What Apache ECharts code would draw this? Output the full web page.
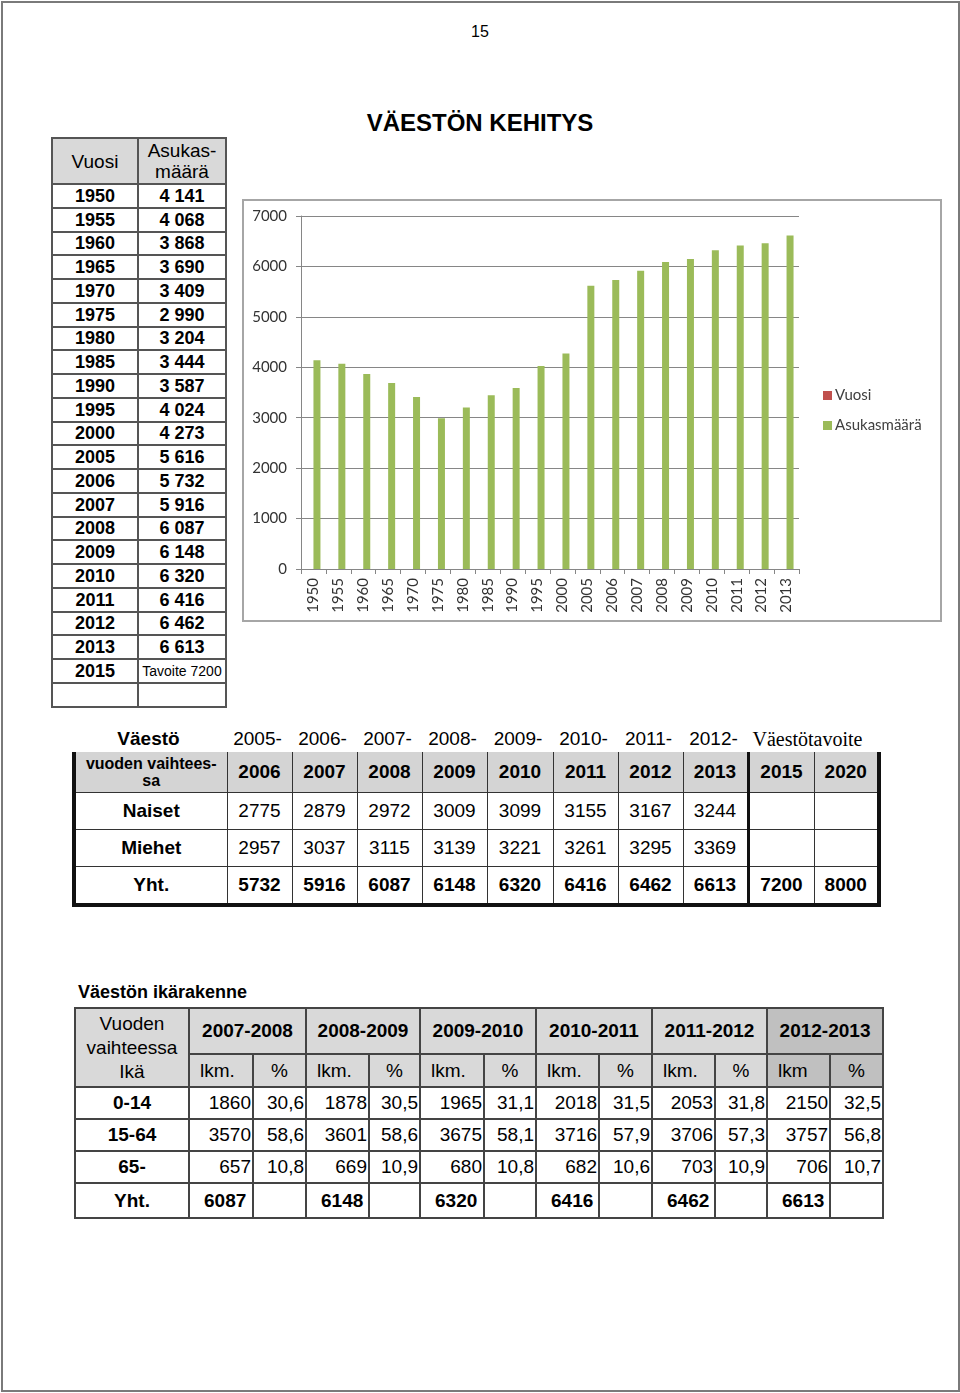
<!DOCTYPE html>
<html>
<head>
<meta charset="utf-8">
<script src="https://cdn.jsdelivr.net/npm/echarts@6/dist/echarts.min.js"></script>
<style>
  body { margin: 0; background: #fff; font-family: "Liberation Sans", Arial, sans-serif; color: #000; }
  .page { position: relative; width: 960px; height: 1393px; overflow: hidden; }
  .frame { position: absolute; left: 1px; top: 1px; width: 955px; height: 1387px; border: 2px solid #7a7a7a; }
  .abs { position: absolute; }
  table { border-collapse: collapse; table-layout: fixed; }
  td { padding: 0; white-space: nowrap; }
  #t1 { left: 51px; top: 137px; width: 174px; }
  #t1 td { border: 2px solid #555; text-align: center; font-weight: bold; font-size: 18px; height: 21.75px; line-height: 20px; }
  #t1 tr.head td { background: #d9d9d9; font-weight: normal; font-size: 19px; height: 44px; line-height: 21px; }
  #t1 td.small { font-weight: normal; font-size: 14px; }
  #t2 { left: 72px; top: 752px; width: 805px; border-left: 4px solid #111; border-bottom: 4px solid #111; border-right: 4px solid #111; }
  #t2 td { border: 1px solid #333; text-align: center; font-size: 19px; }
  #t2 tr.head td { background: #d4d4d4; font-weight: bold; height: 40px; border-top: none; }
  #t2 tr.row td { height: 36px; }
  #t2 td.lab { font-weight: bold; }
  #t2 tr.tot td { font-weight: bold; }
  #t2 td.sep { border-left: 3px solid #111; }
  #t2top { left: 72px; top: 727px; height: 24px; display: flex; font-size: 19px; line-height: 24px; }
  #t2top div { text-align: center; }
  #t3 { left: 74px; top: 1007px; width: 808px; }
  #t3 td { border: 2px solid #444; font-size: 19px; text-align: right; padding-right: 1px; }
  #t3 td.lab { text-align: center; font-weight: bold; padding: 0; }
  #t3 tr.h1 td { background: #d9d9d9; font-weight: bold; text-align: center; height: 44px; padding: 0; }
  #t3 tr.h2 td { background: #d9d9d9; text-align: center; height: 31px; padding: 0; }
  #t3 tr.h2 td.lkm { text-align: left; padding-left: 10px; }
  #t3 .dark { background: #c0c0c0 !important; }
  #t3 tr.row td { height: 30px; }
  #t3 tr.tot td { height: 33px; font-weight: bold; text-align: left; padding-left: 14px; }
  #t3 tr.tot td.lab { padding: 0; text-align: center; }
  #chart { left: 242px; top: 199px; width: 696px; height: 419px; border: 2px solid #a6a6a6; }
</style>
</head>
<body>
<div class="page">
  <div class="frame"></div>
  <div class="abs" style="left:0;width:960px;top:23px;text-align:center;font-size:16px;">15</div>
  <div class="abs" style="left:0;width:960px;top:109px;text-align:center;font-size:24px;font-weight:bold;">VÄESTÖN KEHITYS</div>
  <table id="t1" class="abs"></table>
  <div id="chart" class="abs"></div>
  <div id="t2top" class="abs"></div>
  <table id="t2" class="abs"></table>
  <div class="abs" style="left:78px;top:982px;font-size:18px;font-weight:bold;">Väestön ikärakenne</div>
  <table id="t3" class="abs"></table>
</div>
<script>
// population by year
const years = ['1950', '1955', '1960', '1965', '1970', '1975', '1980', '1985', '1990', '1995',
  '2000', '2005', '2006', '2007', '2008', '2009', '2010', '2011', '2012', '2013'];
const population = [4141, 4068, 3868, 3690, 3409, 2990, 3204, 3444, 3587, 4024,
  4273, 5616, 5732, 5916, 6087, 6148, 6320, 6416, 6462, 6613];
const vuosiValues = [];
const targetYear = '2015';
const targetText = 'Tavoite 7200';

// women / men at turn of year
const periodStart = ['2005-', '2006-', '2007-', '2008-', '2009-', '2010-', '2011-', '2012-'];
const periodEnd = ['2006', '2007', '2008', '2009', '2010', '2011', '2012', '2013'];
const targetYears = ['2015', '2020'];
const women = [2775, 2879, 2972, 3009, 3099, 3155, 3167, 3244];
const men = [2957, 3037, 3115, 3139, 3221, 3261, 3295, 3369];
const totals = [5732, 5916, 6087, 6148, 6320, 6416, 6462, 6613];
const targetTotals = [7200, 8000];

// age structure
const agePeriods = ['2007-2008', '2008-2009', '2009-2010', '2010-2011', '2011-2012', '2012-2013'];
const ageGroups = ['0-14', '15-64', '65-'];
const ageCounts = [
  [1860, 1878, 1965, 2018, 2053, 2150],
  [3570, 3601, 3675, 3716, 3706, 3757],
  [657, 669, 680, 682, 703, 706]
];
const agePercents = [
  ['30,6', '30,5', '31,1', '31,5', '31,8', '32,5'],
  ['58,6', '58,6', '58,1', '57,9', '57,3', '56,8'],
  ['10,8', '10,9', '10,8', '10,6', '10,9', '10,7']
];
const ageTotals = [6087, 6148, 6320, 6416, 6462, 6613];

function spaced(n) {
  return String(n).replace(/\B(?=(\d{3})+(?!\d))/g, ' ');
}

// table 1
let h = '<colgroup><col style="width:86px"><col style="width:88px"></colgroup>';
h += '<tr class="head"><td>Vuosi</td><td>Asukas-<br>määrä</td></tr>';
years.forEach((y, i) => { h += '<tr><td>' + y + '</td><td>' + spaced(population[i]) + '</td></tr>'; });
h += '<tr><td>' + targetYear + '</td><td class="small">' + targetText + '</td></tr>';
h += '<tr><td></td><td></td></tr>';
document.getElementById('t1').innerHTML = h;

// table 2
const w2 = [153, 65, 65, 65, 65, 66, 65, 65, 65, 66, 65];
let top2 = '<div style="width:' + w2[0] + 'px;font-weight:bold">Väestö</div>';
periodStart.forEach((p, i) => { top2 += '<div style="width:' + w2[i + 1] + 'px">' + p + '</div>'; });
top2 += '<div style="width:123px;font-family:\'Liberation Serif\',serif;font-size:20px">Väestötavoite</div>';
document.getElementById('t2top').innerHTML = top2;

h = '<colgroup>' + w2.map(w => '<col style="width:' + w + 'px">').join('') + '</colgroup>';
h += '<tr class="head"><td style="font-size:16px;line-height:17px">vuoden vaihtees-<br>sa</td>';
periodEnd.forEach(y => { h += '<td>' + y + '</td>'; });
targetYears.forEach((y, i) => { h += '<td' + (i == 0 ? ' class="sep"' : '') + '>' + y + '</td>'; });
h += '</tr>';
[['Naiset', women, ['', '']], ['Miehet', men, ['', '']], ['Yht.', totals, targetTotals]].forEach((r, k) => {
  h += '<tr class="row' + (k == 2 ? ' tot' : '') + '"><td class="lab">' + r[0] + '</td>';
  r[1].forEach(v => { h += '<td>' + v + '</td>'; });
  r[2].forEach((v, i) => { h += '<td' + (i == 0 ? ' class="sep"' : '') + '>' + v + '</td>'; });
  h += '</tr>';
});
document.getElementById('t2').innerHTML = h;

// table 3
const w3 = [114, 64, 53, 63, 51, 64, 52, 63, 53, 63, 52, 63, 53];
h = '<colgroup>' + w3.map(w => '<col style="width:' + w + 'px">').join('') + '</colgroup>';
h += '<tr class="h1"><td rowspan="2" style="font-weight:normal;line-height:24px">Vuoden<br>vaihteessa<br>Ikä</td>';
agePeriods.forEach((p, i) => { h += '<td colspan="2"' + (i == 5 ? ' class="dark"' : '') + '>' + p + '</td>'; });
h += '</tr><tr class="h2">';
agePeriods.forEach((p, i) => {
  const d = i == 5 ? ' dark' : '';
  h += '<td class="lkm' + d + '">' + (i == 5 ? 'lkm' : 'lkm.') + '</td><td class="' + d + '">%</td>';
});
h += '</tr>';
ageGroups.forEach((g, r) => {
  h += '<tr class="row"><td class="lab">' + g + '</td>';
  ageCounts[r].forEach((v, i) => { h += '<td>' + v + '</td><td>' + agePercents[r][i] + '</td>'; });
  h += '</tr>';
});
h += '<tr class="tot"><td class="lab">Yht.</td>';
ageTotals.forEach(v => { h += '<td>' + v + '</td><td></td>'; });
h += '</tr>';
document.getElementById('t3').innerHTML = h;

// chart
const myChart = echarts.init(document.getElementById('chart'));
const font = 'Lato, "Open Sans", sans-serif';
const option = {
  animation: false,
  textStyle: { fontFamily: font },
  grid: { left: 57, top: 15, right: 141, bottom: 51 },
  legend: {
    data: ['Vuosi', 'Asukasmäärä'],
    orient: 'vertical',
    left: 579,
    top: 187,
    padding: 0,
    itemWidth: 9,
    itemHeight: 9,
    itemGap: 15,
    icon: 'rect',
    textStyle: { fontSize: 15, color: '#404040', fontFamily: font, padding: [0, 0, 0, -2] }
  },
  xAxis: {
    type: 'category',
    data: years,
    axisLine: { lineStyle: { color: '#868686' } },
    axisTick: { show: true, length: 5, interval: 0, lineStyle: { color: '#868686' } },
    axisLabel: { rotate: 90, interval: 0, fontSize: 15, color: '#333', margin: 9, fontFamily: font }
  },
  yAxis: {
    type: 'value',
    min: 0,
    max: 7000,
    interval: 1000,
    axisLine: { show: true, lineStyle: { color: '#868686' } },
    axisTick: { show: true, length: 5, lineStyle: { color: '#868686' } },
    axisLabel: { fontSize: 15, color: '#333', margin: 14, fontFamily: font, formatter: v => String(v) },
    splitLine: { lineStyle: { color: '#868686' } }
  },
  series: [
    { name: 'Vuosi', type: 'bar', data: vuosiValues, barWidth: 7, barGap: '0%', itemStyle: { color: '#c0504d' } },
    { name: 'Asukasmäärä', type: 'bar', data: population, barWidth: 7, barGap: '0%', itemStyle: { color: '#9bbb59' } }
  ]
};
myChart.setOption(option);
</script>
</body>
</html>
